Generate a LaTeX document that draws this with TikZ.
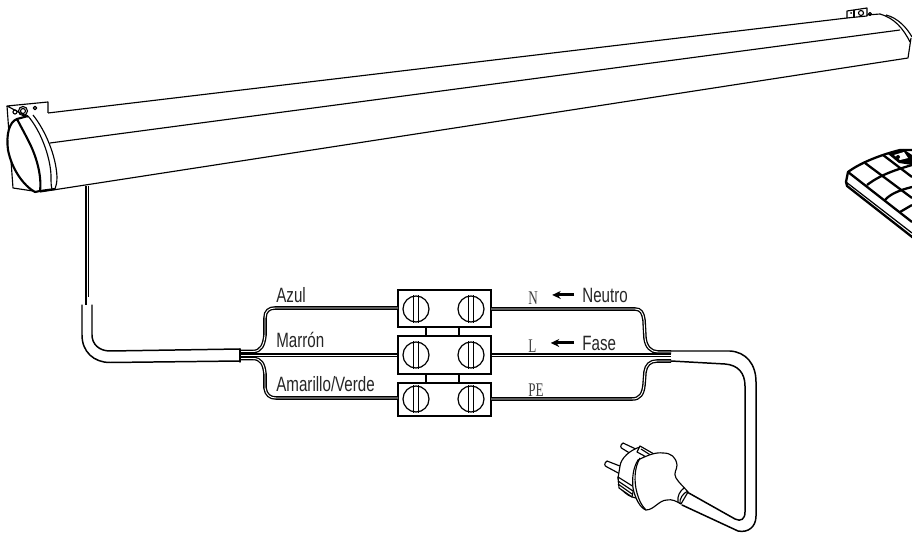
\documentclass[tikz,border=0pt]{standalone}
\usepackage{fontspec}
\setmainfont{Liberation Serif}
\newfontfamily\labelfont[FakeStretch=0.73]{Liberation Sans}
\newfontfamily\condfont[FakeStretch=0.68]{Liberation Serif}
\tikzset{
  terminal/.style={draw, line width=0.7pt, rectangle, minimum width=1.86cm, inner sep=0pt},
  screwhead/.style={draw, line width=0.7pt, circle, minimum size=0.52cm, inner sep=0pt},
  wirepair/.style={draw, line width=0.75pt, double=white, double distance=0.55pt},
  colourname/.style={font=\labelfont\fontsize{11.8pt}{13pt}\selectfont, inner sep=0pt, anchor=base west, text=black!85},
  conductor/.style={font=\condfont\fontsize{11pt}{12pt}\selectfont, inner sep=0pt, anchor=base west, text=black!75},
  sheath/.style={line width=0.85pt, line cap=round, line join=round},
  thinline/.style={line width=0.65pt, line join=round},
  heavy/.style={line width=1.2pt, line join=round},
  remoteline/.style={line width=1.3pt, line join=round},
  pointer/.style={-{Stealth[length=0.17cm,width=0.16cm]}, line width=1.7pt, shorten >=0.28cm, shorten <=0.16cm}
}
\usetikzlibrary{arrows.meta}
\begin{document}
\begin{tikzpicture}[x=0.02cm, y=-0.02cm]
    \clip (0,0) rectangle (912,533);
    \fill[white] (0,0) rectangle (912,533);

    % Box of the awning
    \draw[thinline] (48,113) -- (847,18);
    \draw[thinline] (867,15) -- (880,14);
    \draw[thinline] (50,143) -- (900,30);
    \draw[thinline] (40,192) -- (908,58) -- (911,38);
    \draw[thinline] (880,14) .. controls (894,18) and (903,28) .. (910,42);
    \draw[thinline] (886,15) .. controls (898,18) and (907,28) .. (912,37);

    % Bracket, right
    \draw[thinline] (847,11) -- (867,8) -- (867,16) -- (847,18) -- cycle;
    \draw[thinline] (854,10) -- (854,17);
    \draw[thinline] (861,13) circle (2.5);
    \draw[thinline] (870,14) circle (1.5);
    \fill (851,13) circle (1);

    % Bracket, left
    \draw[thinline] (28,117) -- (7,106) -- (48,102) -- (48,113);
    \draw[thinline] (7,106) -- (13,188) -- (33,191);
    \draw[thinline] (23,111) circle (4.5);
    \draw[thinline] (23,111) circle (2.5);
    \draw[thinline] (15,112) circle (2);
    \draw[thinline] (35,108) circle (1.8);

    % End cap
    \draw[heavy, fill=white] (17,119) .. controls (9,122) and (6,135) .. (8,150)
        .. controls (12,170) and (24,186) .. (35,192) -- (40,191)
        .. controls (42,175) and (36,155) .. (28,140)
        .. controls (24,132) and (20,125) .. (17,119) -- cycle;
    \draw[heavy] (17,119) -- (28,116);
    \draw[thinline] (28,116) .. controls (40,130) and (50,155) .. (51,175)
        .. controls (51,182) and (51,186) .. (52,189);
    \draw[thinline] (33,115) .. controls (45,130) and (56,155) .. (57,177)
        .. controls (57,183) and (56,186) .. (55,189);
    \draw[heavy] (40,191) -- (55,189);

    % Cable from the box
    \draw[thinline] (86,186) -- (86,305);
    \draw[line width=0.9pt] (88.5,186) -- (88.5,297);
    \draw[sheath] (82,305) -- (82,335) .. controls (82,352) and (94,362.5) .. (110,362.5) -- (240,361);
    \draw[sheath] (92,305) -- (92,335) .. controls (92,344) and (99,351) .. (110,351) -- (240,349);
    \draw[sheath] (240,349) -- (240,362);

    % Terminals
    \node[terminal, minimum height=0.74cm] (blockA) at (444.5,308.5) {};
    \node[terminal, minimum height=0.76cm] (blockB) at (444.5,355) {};
    \node[terminal, minimum height=0.66cm] (blockC) at (444.5,399.5) {};
    \foreach \bl/\yy in {A/309, B/355, C/399} {
        \foreach \sd/\xx in {l/416, r/471} {
            \node[screwhead] (screw\bl\sd) at (\xx,\yy) {};
            \draw[line width=0.6pt] ([xshift=-0.054cm]screw\bl\sd.north) -- ([xshift=-0.054cm]screw\bl\sd.south);
            \draw[line width=0.6pt] ([xshift=0.054cm]screw\bl\sd.north) -- ([xshift=0.054cm]screw\bl\sd.south);
        }
    }
    \foreach \off in {-0.37cm, 0.29cm} {
        \draw[line width=0.7pt] ([xshift=\off]blockA.south) -- ([xshift=\off]blockB.north);
        \draw[line width=0.7pt] ([xshift=\off]blockB.south) -- ([xshift=\off]blockC.north);
    }

    % Wires, left
    \draw[wirepair] (241,351.5) -- (253,351.5) .. controls (261,351.5) and (264,345) .. (265,335)
        -- (265,318) .. controls (265,311) and (269,308) .. (275,308) -- (398,308);
    \draw[wirepair] (241,355) -- (blockB.west);
    \draw[wirepair] (241,358.5) -- (253,358.5) .. controls (261,358.5) and (264,364) .. (265,374)
        -- (265,388) .. controls (266,395) and (270,398) .. (276,398) -- (398,398);

    % Wires, right
    \draw[wirepair] (491,309) -- (635,309) .. controls (641,309) and (643,313) .. (644,320)
        -- (645,338) .. controls (646,347) and (651,352) .. (658,352) -- (671,352);
    \draw[wirepair] (blockB.east) -- (671,355);
    \draw[wirepair] (491,399) -- (632,399) .. controls (640,399) and (643,394) .. (644,385)
        -- (645,372) .. controls (646,365) and (650,361) .. (657,361) -- (671,361);

    % Mains cable
    \draw[sheath] (671,351) -- (730,351) .. controls (746,352) and (756,364) .. (756,382)
        -- (756,516) .. controls (756,527) and (748,533) .. (738,531) -- (682,505);
    \draw[sheath] (671,361) -- (725,364) .. controls (738,365) and (745,373) .. (745,386)
        -- (745,512) .. controls (745,519) and (741,522) .. (735,519) -- (687,492);

    % Plug
    \draw[thinline, fill=white] (607,461) .. controls (604,463) and (604,466) .. (607,467) -- (622,475) -- (625,468) -- cycle;
    \draw[thinline, fill=white] (623,443) .. controls (620,445) and (620,448) .. (623,449) -- (636,457) -- (640,451) -- cycle;
    \draw[thinline, fill=white] (640,447) .. controls (630,450) and (621,458) .. (620,466)
        -- (618,478) -- (622,490) .. controls (626,494) and (630,497) .. (636,498) -- (650,470) -- cycle;
    \draw[thinline, fill=white] (640,446) -- (654,454) -- (650,459) -- (637,452) -- cycle;
    \draw[thinline] (641,449) -- (652,456);
    \draw[thinline, fill=white] (618,477) -- (634,487) -- (632,497) -- (619,488) -- cycle;
    \draw[thinline] (618,481) -- (633,491);
    \draw[thinline] (618,484) -- (632,494);
    \draw[thinline, fill=white] (638,460) .. controls (648,455) and (656,452) .. (663,453)
        .. controls (671,453) and (676,457) .. (677,465)
        .. controls (677,470) and (673,473) .. (676,478)
        .. controls (679,483) and (684,487) .. (688,492) -- (681,504)
        .. controls (676,501) and (672,499) .. (667,500)
        .. controls (659,500) and (654,510) .. (646,510)
        .. controls (640,508) and (635,498) .. (633,488)
        .. controls (632,478) and (633,468) .. (638,460) -- cycle;
    \draw[thinline] (640,458) .. controls (634,468) and (634,482) .. (637,493)
        .. controls (639,500) and (641,505) .. (646,510);
    \draw[thinline] (688,491) .. controls (683,493) and (679,499) .. (680,504);
    \draw[thinline] (684,488) .. controls (680,491) and (677,496) .. (678,502);

    % Remote control
    \draw[remoteline, fill=white] (848,172) .. controls (860,163) and (880,155) .. (900,150) -- (930,150)
        -- (930,251) -- (847,186) -- (846,182) -- cycle;
    \draw[line width=0.7pt] (846,182) -- (912,233);
    \draw[remoteline] (848,172) -- (912,222);
    \draw[remoteline] (865,163) -- (912,198);
    \draw[remoteline] (883,155) -- (912,177);
    \draw[remoteline] (867,185) .. controls (880,175) and (895,170) .. (912,165);
    \draw[remoteline] (885,200) .. controls (890,194) and (900,190) .. (912,187);
    \draw[remoteline] (900,212) -- (912,205);
    \fill (888,154) -- (903,149) -- (912,155) -- (912,165) -- (899,163) -- cycle;
    \fill[white] (894,155) -- (904,152) -- (908,158) -- (900,160) -- cycle;
    \fill (898,157) circle (2);

    % Labels
    \node[colourname] (azul) at (276,302) {Azul};
    \node[colourname] (marron) at (276,347) {Marrón};
    \node[colourname] (amarillo) at (276,391) {Amarillo/Verde};
    \node[conductor] (condN) at (528,304) {N};
    \node[conductor] (condL) at (528,352) {L};
    \node[conductor] (condPE) at (528,396) {PE};
    \node[colourname] (neutro) at (582,302) {Neutro};
    \node[colourname] (fase) at (582,350) {Fase};
    \draw[pointer] (neutro.west) -- (condN.east |- neutro.west);
    \draw[pointer] (fase.west) -- (condL.east |- fase.west);
\end{tikzpicture}
\end{document}
